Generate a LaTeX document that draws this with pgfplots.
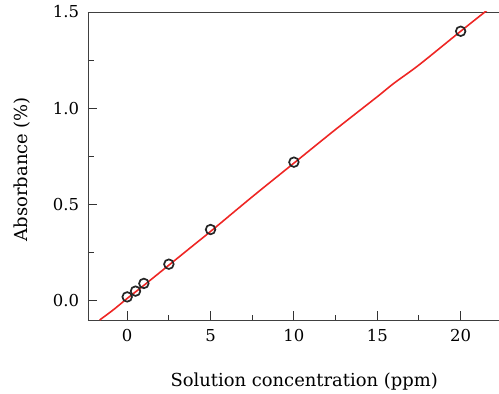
\documentclass[border=0pt]{standalone}
\usepackage{fontspec}
\setmainfont{DejaVu Serif}
\usepackage{pgfplots}
\pgfplotsset{compat=1.18}
\definecolor{fitred}{RGB}{238,38,36}
\begin{document}
\begin{tikzpicture}
\begin{axis}[
  scale only axis,
  width=411bp, height=308bp,
  xmin=-2.35, xmax=22.3,
  ymin=-0.1, ymax=1.5,
  axis x line=box, axis y line=left,
  y axis line style={-}, x axis line style={-},
  axis line style={black!75, line width=1pt},
  tick align=inside,
  xtick pos=bottom, ytick pos=left,
  xtick={0,5,10,15,20},
  ytick={0,0.5,1.0,1.5},
  minor xtick={2.5,7.5,12.5,17.5},
  minor ytick={0.25,0.75,1.25},
  major tick length=9bp, minor tick length=5.5bp,
  every tick/.style={black!80, line width=1pt},
  /pgf/number format/assume math mode=true,
  yticklabel style={/pgf/number format/fixed, /pgf/number format/fixed zerofill, /pgf/number format/precision=1},
  tick label style={font=\fontsize{16.5}{19}\selectfont},
  yticklabel style={xshift=-5.5bp},
  xticklabel style={yshift=-6bp},
  xlabel={Solution concentration (ppm)},
  ylabel={Absorbance (\%)},
  label style={font=\fontsize{18}{21}\selectfont},
  xlabel style={at={(axis description cs:0.526,-0.2175)}, anchor=base},
  ylabel style={at={(axis description cs:-0.1606,0.49)}, anchor=center},
  clip=true,
]
\addplot[only marks, mark=o, mark size=4.8bp, mark options={line width=1.7pt, black!85}] coordinates {
  (0,0.02) (0.5,0.05) (1,0.09) (2.5,0.19) (5,0.37) (10,0.72) (20,1.40)
};
\addplot[fitred, line width=1.6pt, smooth] coordinates {
  (-1.65,-0.1) (-0.8,-0.045) (0,0.012) (1,0.08) (2.5,0.185) (4,0.29) (5,0.36) (7.5,0.54) (10,0.715) (12.5,0.89) (15,1.06) (16,1.13) (17.5,1.225) (20,1.40) (21.6,1.51)
};
\end{axis}
\pgfresetboundingbox
\path (-88bp,-74bp) rectangle (411bp,320bp);
\end{tikzpicture}
\end{document}
